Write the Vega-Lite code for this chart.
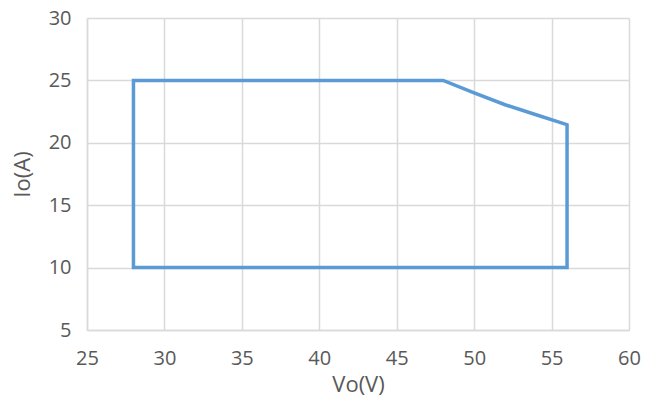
{
  "$schema": "https://vega.github.io/schema/vega-lite/v6.json",
  "width": 542,
  "height": 312,
  "autosize": {"type": "none"},
  "padding": {"left": 87, "top": 18, "right": 32, "bottom": 79},
  "background": "white",
  "data": {
    "values": [
      {"i": 0, "vo": 28, "io": 10},
      {"i": 1, "vo": 28, "io": 25},
      {"i": 2, "vo": 48, "io": 25},
      {"i": 3, "vo": 50, "io": 24},
      {"i": 4, "vo": 52, "io": 23.05},
      {"i": 5, "vo": 54, "io": 22.25},
      {"i": 6, "vo": 56, "io": 21.45},
      {"i": 7, "vo": 56, "io": 10},
      {"i": 8, "vo": 28, "io": 10}
    ]
  },
  "mark": {"type": "line", "color": "#5B9BD5", "strokeWidth": 3.5, "strokeJoin": "miter", "strokeCap": "square"},
  "encoding": {
    "x": {
      "field": "vo", "type": "quantitative",
      "scale": {"domain": [25, 60], "nice": false, "zero": false},
      "axis": {"title": "Vo(V)", "values": [25, 30, 35, 40, 45, 50, 55, 60], "labelFlush": false, "labelPadding": 18, "titlePadding": 6}
    },
    "y": {
      "field": "io", "type": "quantitative",
      "scale": {"domain": [5, 30], "nice": false, "zero": false},
      "axis": {"title": "Io(A)", "values": [5, 10, 15, 20, 25, 30], "labelPadding": 16, "titlePadding": 14}
    },
    "order": {"field": "i", "type": "quantitative"}
  },
  "config": {
    "view": {"stroke": null},
    "axis": {
      "labelFont": "Open Sans",
      "titleFont": "Open Sans",
      "labelFontSize": 20,
      "titleFontSize": 22,
      "titleFontWeight": "normal",
      "labelColor": "#595959",
      "titleColor": "#595959",
      "gridColor": "#D9D9D9",
      "gridWidth": 1.5,
      "domainColor": "#D9D9D9",
      "domainWidth": 1.5,
      "ticks": false
    }
  }
}
